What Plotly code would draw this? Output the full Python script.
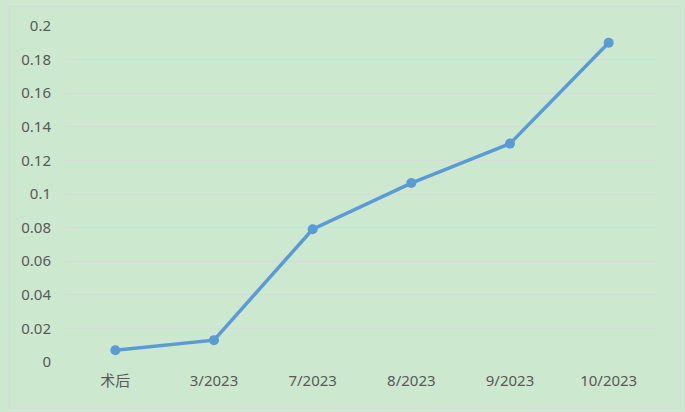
import plotly.graph_objects as go

categories = ["术后", "3/2023", "7/2023", "8/2023", "9/2023", "10/2023"]
values = [0.007, 0.013, 0.079, 0.1065, 0.130, 0.190]
y_ticks = [0, 0.02, 0.04, 0.06, 0.08, 0.1, 0.12, 0.14, 0.16, 0.18, 0.2]
y_tick_labels = ["0", "0.02", "0.04", "0.06", "0.08", "0.1", "0.12", "0.14", "0.16", "0.18", "0.2"]

W, H = 685, 412
L, R, T, B = 66, 27, 26, 50
pw, ph = W - L - R, H - T - B

fig = go.Figure(go.Scatter(
    x=categories, y=values, mode="lines+markers",
    line=dict(color="#5B9BD5", width=3.5),
    marker=dict(color="#5B9BD5", size=10),
))

bg = "#CCE8CF"
fig.update_layout(
    width=W, height=H, margin=dict(l=L, r=R, t=T, b=B),
    paper_bgcolor=bg, plot_bgcolor=bg,
    font=dict(family="Noto Sans, Noto Sans CJK SC, sans-serif", size=15, color="#595959"),
    showlegend=False,
    xaxis=dict(type="category", range=[-0.5, 5.5], showgrid=False, zeroline=False,
               showline=False, ticks="", ticklabelstandoff=8),
    yaxis=dict(range=[0, 0.2], tickvals=y_ticks, ticktext=y_tick_labels,
               showgrid=True, gridcolor="#D9D9D9", gridwidth=1, zeroline=False,
               showline=False, ticks="", ticklabelstandoff=14),
    shapes=[dict(type="rect", xref="paper", yref="paper",
                 x0=(9.5 - L) / pw, x1=(680.5 - L) / pw,
                 y0=(H - 408.5 - B) / ph, y1=(H - 6.5 - B) / ph,
                 line=dict(color="#D9D9D9", width=1), fillcolor="rgba(0,0,0,0)",
                 layer="below")],
)
fig.write_html("out.html", config={"displayModeBar": False},
               post_script="document.body.style.margin='0';document.body.style.background='#CCE8CF';")
